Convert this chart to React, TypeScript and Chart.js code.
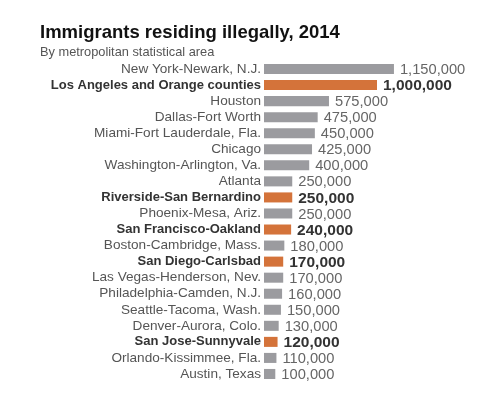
import React, { useEffect, useRef } from "react";
import { Chart, registerables } from "chart.js";

Chart.register(...registerables);

const categories = [
  "New York-Newark, N.J.",
  "Los Angeles and Orange counties",
  "Houston",
  "Dallas-Fort Worth",
  "Miami-Fort Lauderdale, Fla.",
  "Chicago",
  "Washington-Arlington, Va.",
  "Atlanta",
  "Riverside-San Bernardino",
  "Phoenix-Mesa, Ariz.",
  "San Francisco-Oakland",
  "Boston-Cambridge, Mass.",
  "San Diego-Carlsbad",
  "Las Vegas-Henderson, Nev.",
  "Philadelphia-Camden, N.J.",
  "Seattle-Tacoma, Wash.",
  "Denver-Aurora, Colo.",
  "San Jose-Sunnyvale",
  "Orlando-Kissimmee, Fla.",
  "Austin, Texas",
];

const immigrants = [
  1150000, 1000000, 575000, 475000, 450000, 425000, 400000, 250000, 250000,
  250000, 240000, 180000, 170000, 170000, 160000, 150000, 130000, 120000,
  110000, 100000,
];

const highlighted = [
  false, true, false, false, false, false, false, false, true, false, true,
  false, true, false, false, false, false, true, false, false,
];

const titleText = "Immigrants residing illegally, 2014";
const subtitleText = "By metropolitan statistical area";

const FONT = "'Liberation Sans', Arial, sans-serif";
const GRAY = "#9b9b9f";
const ORANGE = "#d4733a";

export default function App() {
  const ref = useRef<HTMLCanvasElement | null>(null);

  useEffect(() => {
    if (!ref.current) return;
    const headerPlugin = {
      id: "header",
      afterDraw(chart: any) {
        const { ctx } = chart;
        ctx.save();
        ctx.textAlign = "left";
        ctx.textBaseline = "alphabetic";
        ctx.fillStyle = "#111";
        ctx.font = `bold 18.5px ${FONT}`;
        ctx.fillText(titleText, 40, 38);
        ctx.fillStyle = "#555";
        ctx.font = `12.8px ${FONT}`;
        ctx.fillText(subtitleText, 40, 56);
        ctx.restore();
      },
    };
    const valueLabels = {
      id: "valueLabels",
      afterDatasetsDraw(chart: any) {
        const { ctx } = chart;
        const meta = chart.getDatasetMeta(0);
        ctx.save();
        ctx.textAlign = "left";
        ctx.textBaseline = "middle";
        meta.data.forEach((bar: any, i: number) => {
          const bold = highlighted[i];
          ctx.font = bold ? `bold 15.5px ${FONT}` : `14.7px ${FONT}`;
          ctx.fillStyle = bold ? "#333" : "#666";
          ctx.fillText(immigrants[i].toLocaleString("en-US"), bar.x + 6, bar.y + 1);
        });
        ctx.restore();
      },
    };
    const chart = new Chart(ref.current, {
      type: "bar",
      data: {
        labels: categories,
        datasets: [
          {
            data: immigrants,
            backgroundColor: highlighted.map((h) => (h ? ORANGE : GRAY)),
            borderWidth: 0,
            barPercentage: 1,
            categoryPercentage: 0.625,
          },
        ],
      },
      options: {
        indexAxis: "y",
        responsive: false,
        animation: false,
        devicePixelRatio: 1,
        layout: { padding: { top: 61, bottom: 13, left: 0, right: 10 } },
        plugins: {
          legend: { display: false },
          tooltip: { enabled: false },
        },
        scales: {
          x: { display: false, min: 0, max: 2000000 },
          y: {
            grid: { display: false, drawTicks: false },
            border: { display: false },
            afterFit(scale: any) {
              scale.width = 264;
            },
            ticks: {
              padding: 3,
              autoSkip: false,
              font: (c: any) => ({
                family: FONT,
                size: highlighted[c.index] ? 13 : 13.6,
                weight: highlighted[c.index] ? "bold" : "normal",
              }),
              color: (c: any) => (highlighted[c.index] ? "#333" : "#555"),
            },
          },
        },
      },
      plugins: [headerPlugin, valueLabels],
    });
    return () => chart.destroy();
  }, []);

  return (
    <div style={{ position: "absolute", left: 0, top: 0, width: 500, height: 395, background: "#fff" }}>
      <canvas ref={ref} width={500} height={395} />
    </div>
  );
}
